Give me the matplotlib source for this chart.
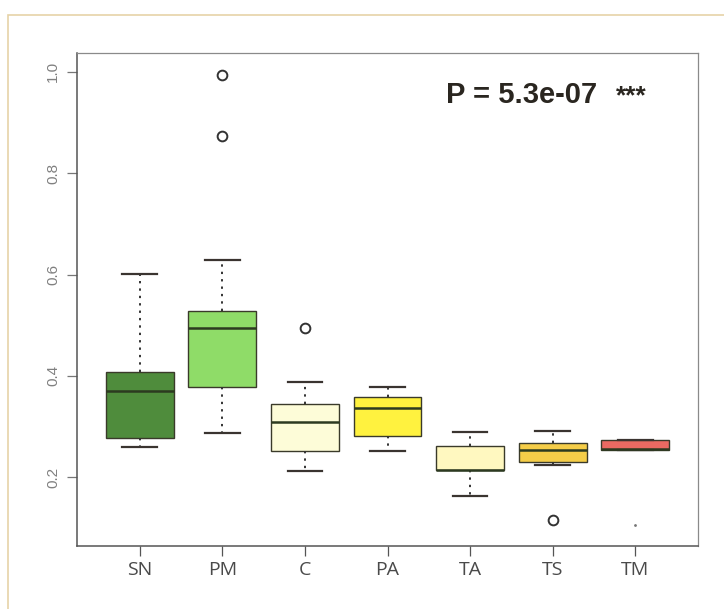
import matplotlib.pyplot as plt
from matplotlib.patches import Rectangle

# group summary values
groups = ["SN", "PM", "C", "PA", "TA", "TS", "TM"]
whislo = [0.259, 0.288, 0.212, 0.252, 0.164, 0.224, 0.253]
q1 = [0.277, 0.378, 0.251, 0.282, 0.214, 0.231, 0.253]
med = [0.370, 0.494, 0.309, 0.336, 0.215, 0.254, 0.255]
q3 = [0.408, 0.528, 0.345, 0.358, 0.261, 0.268, 0.274]
whishi = [0.601, 0.629, 0.387, 0.378, 0.290, 0.291, 0.274]
outliers = [[], [0.994, 0.873], [0.494], [], [], [0.116], []]
tiny_x = [7]
tiny_y = [0.106]
colors = ["#4f8c3c", "#8fdc68", "#fdfcd8", "#fff23f", "#fff8c0", "#f5cd48", "#ea6a62"]
p_label = "P = 5.3e-07"
stars = "***"

fig = plt.figure(figsize=(7.24, 6.09), dpi=100)
fig.patch.set_facecolor("white")

# scanned panel border
fig.patches.append(Rectangle((8 / 724, -0.1), 1.2, 1 - 15 / 609 + 0.1,
                             transform=fig.transFigure, fill=False,
                             edgecolor="#e6d3a8", linewidth=1.2))

ax = fig.add_axes([77 / 724, 1 - 546 / 609, (698 - 77) / 724, (546 - 52.7) / 609])

stats = []
for i, g in enumerate(groups):
    stats.append(dict(label=g, whislo=whislo[i], q1=q1[i], med=med[i],
                      q3=q3[i], whishi=whishi[i], fliers=outliers[i]))

positions = list(range(1, len(groups) + 1))
bp = ax.bxp(stats, positions=positions, widths=0.82, capwidths=0.42,
            patch_artist=True, showfliers=True,
            boxprops=dict(edgecolor="#3a3a2a", linewidth=1.0),
            medianprops=dict(color="#2c3a20", linewidth=1.8),
            whiskerprops=dict(color="#333333", linewidth=1.4, linestyle=(0, (1.2, 2.6))),
            capprops=dict(color="#3a3430", linewidth=1.6),
            flierprops=dict(marker="o", markersize=7, markerfacecolor="none",
                            markeredgecolor="#333333", markeredgewidth=1.4))
for patch, c in zip(bp["boxes"], colors):
    patch.set_facecolor(c)

ax.plot(tiny_x, tiny_y, marker=".", markersize=2, color="#777777", linestyle="none")

ax.set_xlim(0.24, 7.76)
ax.set_ylim(0.0645, 1.0375)
ax.set_yticks([0.2, 0.4, 0.6, 0.8, 1.0])
ax.set_yticklabels(["0.2", "0.4", "0.6", "0.8", "1.0"], rotation=90, va="center",
                   family="Liberation Sans", fontsize=11, color="#808080")
ax.set_xticks(positions)
ax.set_xticklabels(groups, family="Open Sans", fontsize=14, color="#4a4a4a")
ax.tick_params(axis="y", length=7, width=0.9, color="#777777", pad=5)
ax.tick_params(axis="x", length=7, width=0.9, color="#555555", pad=4)

for side in ["left", "bottom"]:
    ax.spines[side].set_color("#555555")
    ax.spines[side].set_linewidth(1.1)
for side in ["top", "right"]:
    ax.spines[side].set_color("#8a8a8a")
    ax.spines[side].set_linewidth(0.9)

ax.text(0.595, 0.898, p_label, transform=ax.transAxes, family="Liberation Sans",
        fontweight="bold", fontsize=21, color="#2a2620", ha="left", va="baseline")
ax.text(0.868, 0.898, stars, transform=ax.transAxes, family="Liberation Sans",
        fontweight="bold", fontsize=19, color="#2a2620", ha="left", va="baseline")

fig.savefig("out.png", dpi=100)
